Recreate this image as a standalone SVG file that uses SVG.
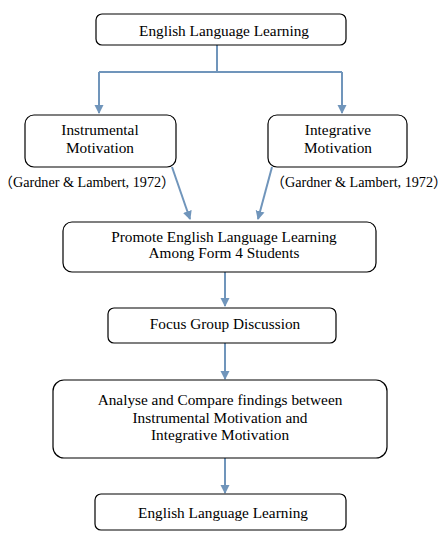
<svg xmlns="http://www.w3.org/2000/svg" width="447" height="541" viewBox="0 0 447 541">
<style>
.box{fill:#fff;stroke:#000;stroke-width:1.2}
text{font-family:"Liberation Serif","Times New Roman","Noto Sans CJK SC",serif;font-size:15.3px;fill:#000;text-anchor:middle}
.cite{font-size:14.2px}
.c{stroke:#7095bb;stroke-width:2;fill:none}
</style>
<defs>
<marker id="ah" markerWidth="10" markerHeight="10" refX="8" refY="5" orient="auto" markerUnits="userSpaceOnUse">
<path d="M0,0.5 L9,5 L0,9.5 z" fill="#7095bb"/>
</marker>
</defs>
<rect width="447" height="541" fill="#fff"/>
<g id="connectors">
<path class="c" d="M217,45 V72"/>
<path class="c" d="M99,72 H342"/>
<path class="c" d="M99,72 V113" marker-end="url(#ah)"/>
<path class="c" d="M342,72 V113" marker-end="url(#ah)"/>
<path class="c" d="M172,167 L190,219" marker-end="url(#ah)"/>
<path class="c" d="M272,167 L258,219" marker-end="url(#ah)"/>
<path class="c" d="M225,272 V306" marker-end="url(#ah)"/>
<path class="c" d="M225,343 V379" marker-end="url(#ah)"/>
<path class="c" d="M225,458 V493" marker-end="url(#ah)"/>
</g>
<g id="n1"><rect class="box" x="96" y="14" width="250" height="31" rx="6"/><text x="224" y="36">English Language Learning</text></g>
<g id="n2"><rect class="box" x="25" y="115" width="151" height="52" rx="9"/><text x="100" y="135">Instrumental</text><text x="100" y="153">Motivation</text></g>
<g id="n3"><rect class="box" x="268" y="115" width="139" height="52" rx="9"/><text x="338" y="135">Integrative</text><text x="338" y="153">Motivation</text></g>
<g id="cite1"><text class="cite" x="87" y="187">（Gardner &amp; Lambert, 1972）</text></g>
<g id="cite2"><text class="cite" x="359" y="187">（Gardner &amp; Lambert, 1972）</text></g>
<g id="n4"><rect class="box" x="63" y="222" width="313" height="50" rx="9"/><text x="224" y="242">Promote English Language Learning</text><text x="224" y="258">Among Form 4 Students</text></g>
<g id="n5"><rect class="box" x="108" y="308" width="228" height="35" rx="6"/><text x="225" y="329">Focus Group Discussion</text></g>
<g id="n6"><rect class="box" x="53" y="380" width="334" height="78" rx="11"/><text x="220" y="405">Analyse and Compare findings between</text><text x="220" y="423">Instrumental Motivation and</text><text x="220" y="440">Integrative Motivation</text></g>
<g id="n7"><rect class="box" x="95" y="494" width="251" height="36" rx="6"/><text x="223" y="518">English Language Learning</text></g>
</svg>
